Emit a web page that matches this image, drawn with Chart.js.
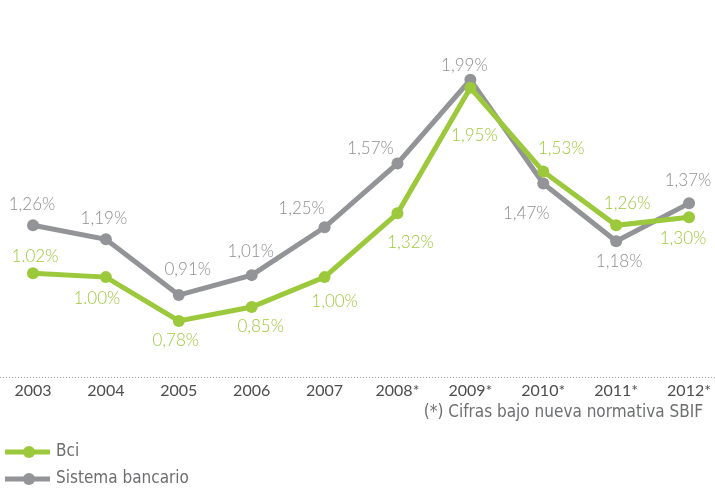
<!DOCTYPE html>
<html>
<head>
<meta charset="utf-8">
<script src="https://cdn.jsdelivr.net/npm/chart.js@4/dist/chart.umd.min.js"></script>
<style>
  html, body { margin: 0; padding: 0; background: #fff; }
  #wrap { width: 715px; height: 488px; position: relative; }
</style>
</head>
<body>
<div id="wrap"><canvas id="chart"></canvas></div>
<script>
// data
var years = ["2003", "2004", "2005", "2006", "2007", "2008*", "2009*", "2010*", "2011*", "2012*"];
var bci = [1.02, 1.00, 0.78, 0.85, 1.00, 1.32, 1.95, 1.53, 1.26, 1.30];
var sistema = [1.26, 1.19, 0.91, 1.01, 1.25, 1.57, 1.99, 1.47, 1.18, 1.37];
var bciLabels = ["1.02%", "1.00%", "0,78%", "0,85%", "1,00%", "1,32%", "1,95%", "1,53%", "1,26%", "1,30%"];
var sistemaLabels = ["1,26%", "1,19%", "0,91%", "1,01%", "1,25%", "1,57%", "1,99%", "1,47%", "1,18%", "1,37%"];
var footnote = "(*) Cifras bajo nueva normativa SBIF";

// label placement (text centre relative to the point)
var bciOffsets = [[2,-17],[-9,21],[-3,20],[9,19],[10,24],[13,29],[4,48],[18,-23],[11,-22],[-6,21]];
var sistemaOffsets = [[-1,-21],[-2,-21],[9,-26],[-1,-24],[-23,-19],[-27,-15],[-6,-14],[-17,30],[3,20],[-1,-23]];

var green = "#9cc93b";
var grey = "#939497";
var font = "Lato, 'Open Sans', sans-serif";
var narrow = "'Liberation Sans Narrow', 'DejaVu Sans Condensed', sans-serif";

var extras = {
  id: "extras",
  beforeDatasetsDraw: function(chart) {
    var ctx = chart.ctx;
    var y = chart.scales.y.getPixelForValue(0.5);
    ctx.save();
    ctx.strokeStyle = "#9a9a9a";
    ctx.lineWidth = 1;
    ctx.setLineDash([1, 2]);
    ctx.beginPath();
    ctx.moveTo(0, Math.round(y) + 0.5);
    ctx.lineTo(chart.width, Math.round(y) + 0.5);
    ctx.stroke();
    ctx.restore();
  },
  afterDatasetsDraw: function(chart) {
    var ctx = chart.ctx;
    ctx.save();
    ctx.font = "300 17px " + font;
    ctx.textAlign = "center";
    ctx.textBaseline = "middle";
    chart.data.datasets.forEach(function(ds, i) {
      var meta = chart.getDatasetMeta(i);
      meta.data.forEach(function(pt, j) {
        var off = ds.labelOffsets[j];
        ctx.fillStyle = ds.labelColor;
        ctx.fillText(ds.labelTexts[j], pt.x + off[0], pt.y + off[1]);
      });
    });
    ctx.restore();
  },
  afterDraw: function(chart) {
    var ctx = chart.ctx;
    ctx.save();
    // footnote
    ctx.font = "17px " + narrow;
    ctx.fillStyle = "#6d6e70";
    ctx.textAlign = "right";
    ctx.textBaseline = "middle";
    ctx.fillText(footnote, 703, 413);
    // legend
    ctx.textAlign = "left";
    chart.data.datasets.forEach(function(ds, i) {
      var y = 452 + i * 27;
      ctx.strokeStyle = ds.borderColor;
      ctx.lineWidth = 5;
      ctx.beginPath();
      ctx.moveTo(5, y);
      ctx.lineTo(50, y);
      ctx.stroke();
      ctx.fillStyle = ds.borderColor;
      ctx.beginPath();
      ctx.arc(29, y, 6, 0, Math.PI * 2);
      ctx.fill();
      ctx.fillStyle = "#6d6e70";
      ctx.fillText(ds.label, 56, y);
    });
    ctx.restore();
  }
};

new Chart(document.getElementById("chart"), {
  type: "line",
  data: {
    labels: years,
    datasets: [
      {
        label: "Bci",
        data: bci,
        borderColor: green,
        backgroundColor: green,
        borderWidth: 5,
        pointRadius: 6,
        pointHoverRadius: 6,
        pointBorderWidth: 0,
        tension: 0,
        labelTexts: bciLabels,
        labelOffsets: bciOffsets,
        labelColor: green
      },
      {
        label: "Sistema bancario",
        data: sistema,
        borderColor: grey,
        backgroundColor: grey,
        borderWidth: 5,
        pointRadius: 6,
        pointHoverRadius: 6,
        pointBorderWidth: 0,
        tension: 0,
        labelTexts: sistemaLabels,
        labelOffsets: sistemaOffsets,
        labelColor: "#8d8e91"
      }
    ]
  },
  options: {
    responsive: true,
    maintainAspectRatio: false,
    animation: false,
    layout: { padding: { left: 33, right: 22, top: 8, bottom: 84 } },
    plugins: { legend: { display: false }, tooltip: { enabled: false } },
    scales: {
      x: {
        offset: false,
        grid: { display: false, drawTicks: false },
        border: { display: false },
        ticks: { color: "#4d4d4f", padding: 4, font: { family: font, size: 16 }, maxRotation: 0, autoSkip: false }
      },
      y: {
        display: false,
        min: 0.5,
        max: 2.35
      }
    }
  },
  plugins: [extras]
});
</script>
</body>
</html>
